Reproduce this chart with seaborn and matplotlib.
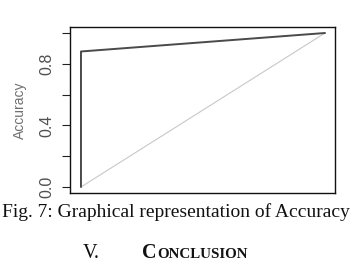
import matplotlib
matplotlib.use("Agg")
import matplotlib.pyplot as plt
import seaborn as sns
import pandas as pd

# Data
fpr = [0.0, 0.0, 1.0]
tpr = [0.0, 0.88, 1.0]
diag_x = [0.0, 1.0]
diag_y = [0.0, 1.0]
yticks = [0.0, 0.2, 0.4, 0.6, 0.8, 1.0]
ytick_labels = ["0.0", "", "0.4", "", "0.8", ""]
ylabel = "Accuracy"
caption = "Fig. 7: Graphical representation of Accuracy"

sns.set_style("white")
plt.rcParams['font.family'] = ['Liberation Sans', 'DejaVu Sans']

fig = plt.figure(figsize=(3.52, 2.70), dpi=100)
W, H = 352, 270
ax = fig.add_axes([70 / W, (H - 193) / H, (335 - 70) / W, (193 - 27) / H])

curve = pd.DataFrame({"x": fpr, "y": tpr})
diag = pd.DataFrame({"x": diag_x, "y": diag_y})
sns.lineplot(data=diag, x="x", y="y", ax=ax, color="#c8c8c8", linewidth=0.8,
             sort=False, estimator=None)
sns.lineplot(data=curve, x="x", y="y", ax=ax, color="#4a4a4a", linewidth=1.4,
             sort=False, estimator=None)

ax.set_xlim(-0.045, 1.041)
ax.set_ylim(-0.039, 1.039)
ax.set_xticks([])
ax.set_yticks(yticks)
ax.set_yticklabels(ytick_labels, rotation=90, va="center", fontsize=11.5, color="#505050")
ax.tick_params(axis="y", direction="out", length=6, width=0.8, color="#222222",
               left=True, pad=5)
ax.set_xlabel("")
ax.set_ylabel(ylabel, fontsize=10, color="#707070", labelpad=9)
for s in ax.spines.values():
    s.set_visible(True)
    s.set_color("#111111")
    s.set_linewidth(1.0)

fig.text(176 / W, (H - 217) / H, caption, ha="center", va="baseline",
         fontsize=14.0, family="Liberation Serif", color="#111111")

fig.text(83 / W, (H - 258) / H, "V.", ha="left", va="baseline",
         fontsize=14.5, family="Liberation Serif", color="#111111")
t1 = fig.text(142 / W, (H - 258) / H, "C", ha="left", va="baseline",
              fontsize=14.5, family="Liberation Serif", weight="bold", color="#111111")
fig.canvas.draw()
bb = t1.get_window_extent(renderer=fig.canvas.get_renderer())
x2 = (bb.x1 + 0.5) / W
fig.text(x2, (H - 258) / H, "ONCLUSION", ha="left", va="baseline",
         fontsize=10.8, family="Liberation Serif", weight="bold", color="#111111")

fig.savefig("out.png", dpi=100)
